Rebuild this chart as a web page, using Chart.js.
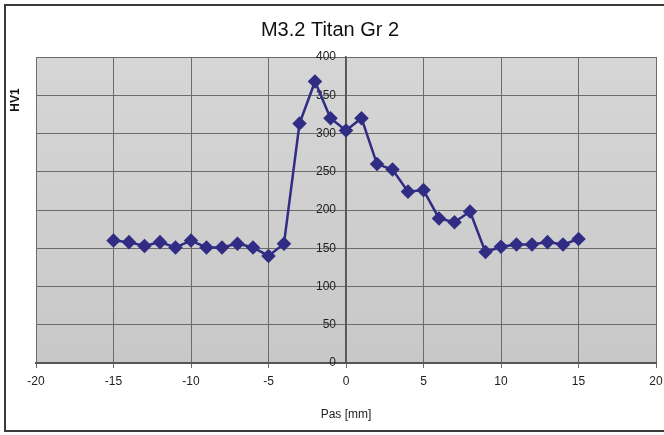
<!DOCTYPE html>
<html>
<head>
<meta charset="utf-8">
<script src="https://cdn.jsdelivr.net/npm/chart.js@4.4.0/dist/chart.umd.min.js"></script>
<style>
  html, body { margin: 0; padding: 0; background: #fff; }
  #wrap { width: 664px; height: 435px; position: relative; }
</style>
</head>
<body>
<div id="wrap"><canvas id="myChart" width="664" height="435"></canvas></div>
<script>
// data
const pas = [-15,-14,-13,-12,-11,-10,-9,-8,-7,-6,-5,-4,-3,-2,-1,0,1,2,3,4,5,6,7,8,9,10,11,12,13,14,15]
const hv1 = [160,158,153,158,151,160,151,151,156,151,140,156,313,368,320,304,320,260,253,224,226,189,184,198,145,152,155,155,158,155,162]
const xTicks = [-20,-15,-10,-5,0,5,10,15,20]
const yTicks = [0,50,100,150,200,250,300,350,400]

const titleText = "M3.2 Titan Gr 2"
const fontFam = "'Liberation Sans Narrow', 'Liberation Sans', Arial, sans-serif"

// background, frame, gray plot area, title and left axis label
const decor = {
    id: 'decor',
    beforeDraw(chart) {
        const c = chart.ctx, a = chart.chartArea
        c.save()
        c.fillStyle = '#ffffff'
        c.fillRect(0, 0, chart.width, chart.height)
        let g = c.createLinearGradient(0, a.top, 0, a.bottom)
        g.addColorStop(0, '#d6d6d6')
        g.addColorStop(1, '#c8c8c8')
        c.fillStyle = g
        c.fillRect(a.left, a.top, a.right - a.left, a.bottom - a.top)
        c.strokeStyle = '#3a3a3a'
        c.lineWidth = 2
        c.strokeRect(5, 5, chart.width - 4, chart.height - 9)
        c.fillStyle = '#111'
        c.font = "20px " + fontFam
        c.textAlign = 'center'
        c.textBaseline = 'middle'
        c.fillText(titleText, 330, 30)
        c.translate(16, 100)
        c.rotate(-Math.PI / 2)
        c.font = "bold 12px " + fontFam
        c.fillText("HV1", 0, 0)
        c.restore()
    }
}

new Chart(document.getElementById("myChart"), {
    type: "line",
    data: {
        datasets: [{
            data: pas.map((x, i) => ({ x: x, y: hv1[i] })),
            borderColor: "#312c84",
            backgroundColor: "#312c84",
            borderWidth: 2.5,
            pointStyle: "rectRot",
            pointRadius: 5.5,
            pointHoverRadius: 5.5,
            tension: 0,
        }],
    },
    options: {
        responsive: false,
        animation: false,
        layout: { padding: { left: 36, right: 0, top: 57, bottom: 0 } },
        plugins: {
            legend: { display: false },
            title: { display: false },
            tooltip: { enabled: false },
        },
        scales: {
            x: {
                type: "linear",
                min: -20,
                max: 20,
                afterBuildTicks: s => { s.ticks = xTicks.map(v => ({ value: v })) },
                afterFit: s => { s.height = 72; s.paddingRight = 6 },
                grid: { color: "#6b6b6b", lineWidth: 1, tickLength: 5, tickColor: "#6b6b6b" },
                border: { color: "#555", width: 2 },
                ticks: { color: "#222", font: { family: fontFam, size: 12 }, padding: 6, maxRotation: 0 },
                title: { display: true, text: "Pas [mm]", color: "#222", font: { family: fontFam, size: 12 }, padding: { top: 4, bottom: 13 } },
            },
            y: {
                position: { x: 0 },
                min: 0,
                max: 400,
                afterBuildTicks: s => { s.ticks = yTicks.map(v => ({ value: v })) },
                afterFit: s => { s.width = 0 },
                grid: { color: "#6b6b6b", lineWidth: 1, tickLength: 5, tickColor: "#6b6b6b" },
                border: { color: "#555", width: 1.5 },
                // trailing spaces push the right-aligned labels off the axis line
                ticks: { color: "#222", font: { family: fontFam, size: 12 }, callback: v => v + "   " },
            },
        },
    },
    plugins: [decor],
})
</script>
</body>
</html>
